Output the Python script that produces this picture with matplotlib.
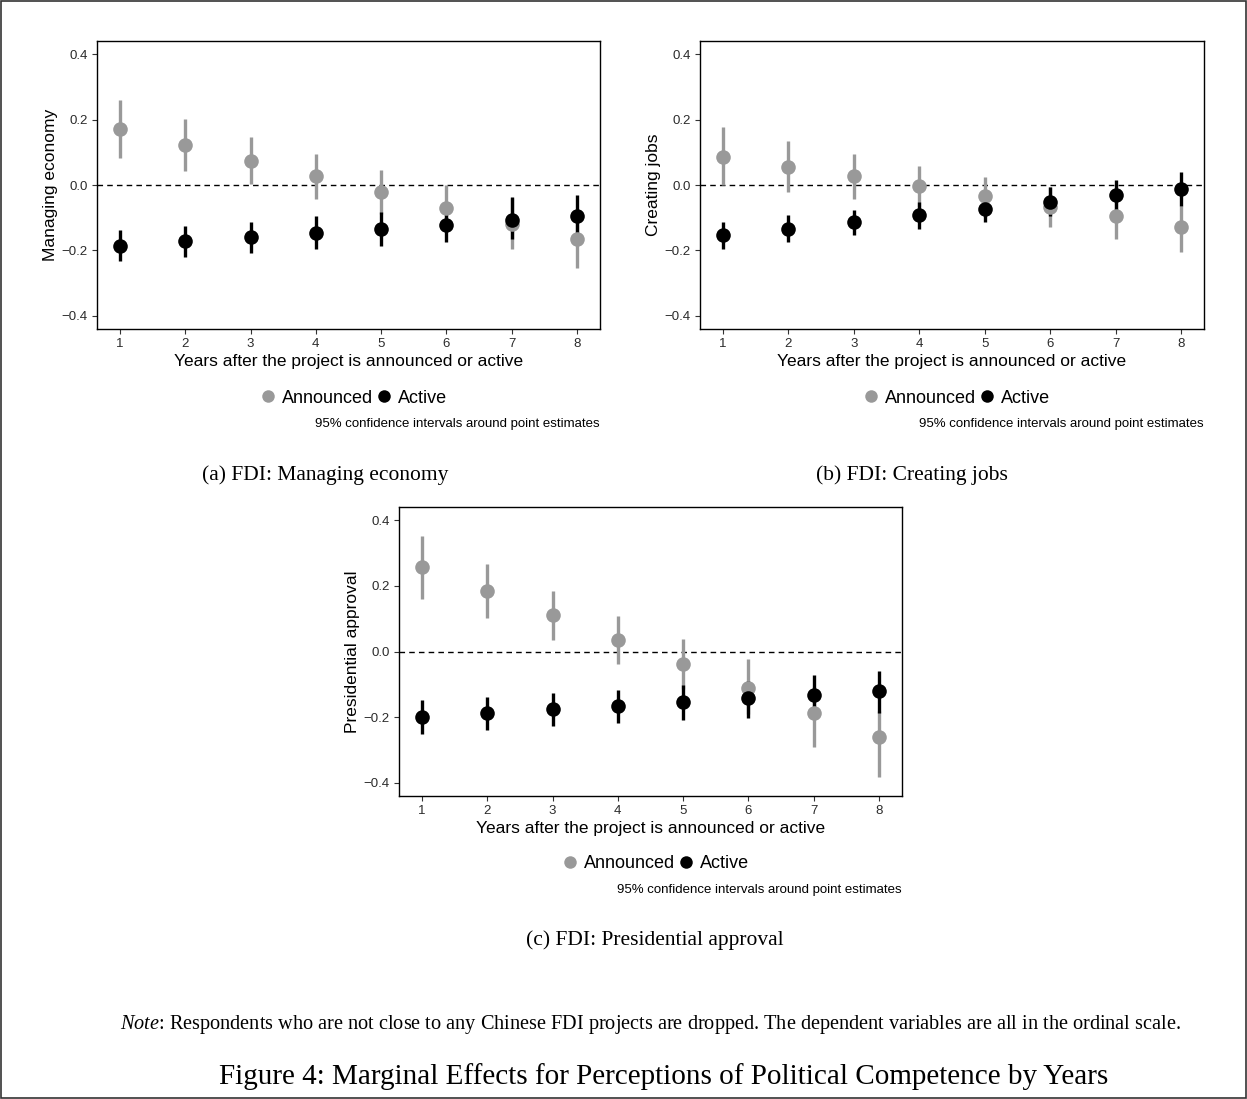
import matplotlib
matplotlib.use('Agg')
import matplotlib.pyplot as plt
from matplotlib.lines import Line2D
from matplotlib.patches import Rectangle

W, H = 1247, 1099

years = [1, 2, 3, 4, 5, 6, 7, 8]

# (a) Managing economy
econ_ann = [0.171, 0.123, 0.074, 0.027, -0.021, -0.069, -0.119, -0.166]
econ_ann_lo = [0.084, 0.044, 0.003, -0.043, -0.090, -0.140, -0.196, -0.253]
econ_ann_hi = [0.259, 0.201, 0.147, 0.094, 0.047, 0.000, -0.040, -0.080]
econ_act = [-0.185, -0.172, -0.159, -0.146, -0.133, -0.121, -0.107, -0.094]
econ_act_lo = [-0.232, -0.220, -0.207, -0.195, -0.185, -0.175, -0.166, -0.154]
econ_act_hi = [-0.136, -0.124, -0.112, -0.096, -0.081, -0.068, -0.038, -0.032]

# (b) Creating jobs
jobs_ann = [0.087, 0.056, 0.026, -0.004, -0.035, -0.066, -0.096, -0.127]
jobs_ann_lo = [0.000, -0.022, -0.044, -0.068, -0.098, -0.129, -0.166, -0.205]
jobs_ann_hi = [0.176, 0.135, 0.094, 0.059, 0.025, -0.007, -0.032, -0.063]
jobs_act = [-0.154, -0.135, -0.114, -0.092, -0.073, -0.053, -0.031, -0.012]
jobs_act_lo = [-0.196, -0.174, -0.153, -0.133, -0.114, -0.095, -0.078, -0.063]
jobs_act_hi = [-0.114, -0.093, -0.075, -0.053, -0.032, -0.007, 0.016, 0.041]

# (c) Presidential approval
pres_ann = [0.257, 0.184, 0.110, 0.036, -0.038, -0.111, -0.186, -0.260]
pres_ann_lo = [0.160, 0.101, 0.036, -0.038, -0.114, -0.190, -0.291, -0.383]
pres_ann_hi = [0.353, 0.265, 0.183, 0.107, 0.039, -0.024, -0.109, -0.180]
pres_act = [-0.198, -0.187, -0.176, -0.165, -0.154, -0.143, -0.132, -0.121]
pres_act_lo = [-0.251, -0.239, -0.227, -0.217, -0.208, -0.201, -0.188, -0.187]
pres_act_hi = [-0.147, -0.139, -0.127, -0.116, -0.102, -0.089, -0.073, -0.058]

GRAY = '#999999'
SANS = 'Liberation Sans'
SERIF = 'Liberation Serif'

plt.rcParams['mathtext.fontset'] = 'custom'
plt.rcParams['mathtext.rm'] = 'Liberation Serif'
plt.rcParams['mathtext.it'] = 'Liberation Serif:italic'


def fx(px):
    return px / W


def fy(py):
    return 1 - py / H


def panel(rect, ylabel, ann, ann_lo, ann_hi, act, act_lo, act_hi):
    ax = fig.add_axes(rect)
    ax.axhline(0, color='black', linestyle=(0, (4, 3)), linewidth=1.0, zorder=1)
    for est, lo, hi, col in [(ann, ann_lo, ann_hi, GRAY), (act, act_lo, act_hi, 'black')]:
        ax.vlines(years, lo, hi, color=col, linewidth=2.4, zorder=2)
        ax.plot(years, est, 'o', color=col, markersize=10.5, markeredgewidth=0, zorder=3)
    ax.set_xlim(0.65, 8.35)
    ax.set_ylim(-0.44, 0.44)
    ax.set_xticks(years)
    ax.set_yticks([-0.4, -0.2, 0.0, 0.2, 0.4])
    ax.set_yticklabels(['\u22120.4', '\u22120.2', '0.0', '0.2', '0.4'])
    ax.tick_params(direction='out', length=3.5, width=0.8, labelsize=9.5,
                   labelcolor='#2b2b2b', color='#333333', pad=3)
    for lab in ax.get_xticklabels() + ax.get_yticklabels():
        lab.set_family(SANS)
    for s in ax.spines.values():
        s.set_linewidth(1.0)
    ax.set_xlabel('Years after the project is announced or active', family=SANS, fontsize=12.5, labelpad=3)
    ax.set_ylabel(ylabel, family=SANS, fontsize=12.5, labelpad=3)
    return ax


def legend(cx, cy, note_right, note_y):
    handles = [Line2D([], [], marker='o', linestyle='', color=GRAY, markersize=9, markeredgewidth=0),
               Line2D([], [], marker='o', linestyle='', color='black', markersize=9, markeredgewidth=0)]
    fig.legend(handles, ['Announced', 'Active'], loc='center', bbox_to_anchor=(fx(cx), fy(cy)),
               ncol=2, frameon=False, handlelength=1.0, handletextpad=0.3, columnspacing=0.1,
               prop={'family': SANS, 'size': 13})
    fig.text(fx(note_right), fy(note_y), '95% confidence intervals around point estimates',
             ha='right', va='center', family=SANS, fontsize=9.5)


fig = plt.figure(figsize=(W / 100, H / 100), dpi=100)

panel([fx(97), fy(329), fx(600) - fx(97), fy(41) - fy(329)], 'Managing economy',
      econ_ann, econ_ann_lo, econ_ann_hi, econ_act, econ_act_lo, econ_act_hi)
panel([fx(700), fy(329), fx(1204) - fx(700), fy(41) - fy(329)], 'Creating jobs',
      jobs_ann, jobs_ann_lo, jobs_ann_hi, jobs_act, jobs_act_lo, jobs_act_hi)
panel([fx(399), fy(796), fx(902) - fx(399), fy(507) - fy(796)], 'Presidential approval',
      pres_ann, pres_ann_lo, pres_ann_hi, pres_act, pres_act_lo, pres_act_hi)

legend(353, 398, 600, 424)
legend(956, 398, 1204, 424)
legend(655, 864, 902, 890)

fig.text(fx(325), fy(475), '(a) FDI: Managing economy', ha='center', va='center', family=SERIF, fontsize=15.5)
fig.text(fx(912), fy(475), '(b) FDI: Creating jobs', ha='center', va='center', family=SERIF, fontsize=15.5)
fig.text(fx(655), fy(940), '(c) FDI: Presidential approval', ha='center', va='center', family=SERIF, fontsize=15.5)

fig.text(fx(650), fy(1025), r'$\it{Note}$: Respondents who are not close to any Chinese FDI projects are dropped. '
         'The dependent variables are all in the ordinal scale.',
         ha='center', va='center', family=SERIF, fontsize=14.6)
fig.text(fx(664), fy(1077), 'Figure 4: Marginal Effects for Perceptions of Political Competence by Years',
         ha='center', va='center', family=SERIF, fontsize=21)

fig.patches.append(Rectangle((0.0008, 0.0009), 0.9984, 0.9982, transform=fig.transFigure,
                             fill=False, edgecolor='#333333', linewidth=1.2))

fig.savefig('out.png', dpi=100)
